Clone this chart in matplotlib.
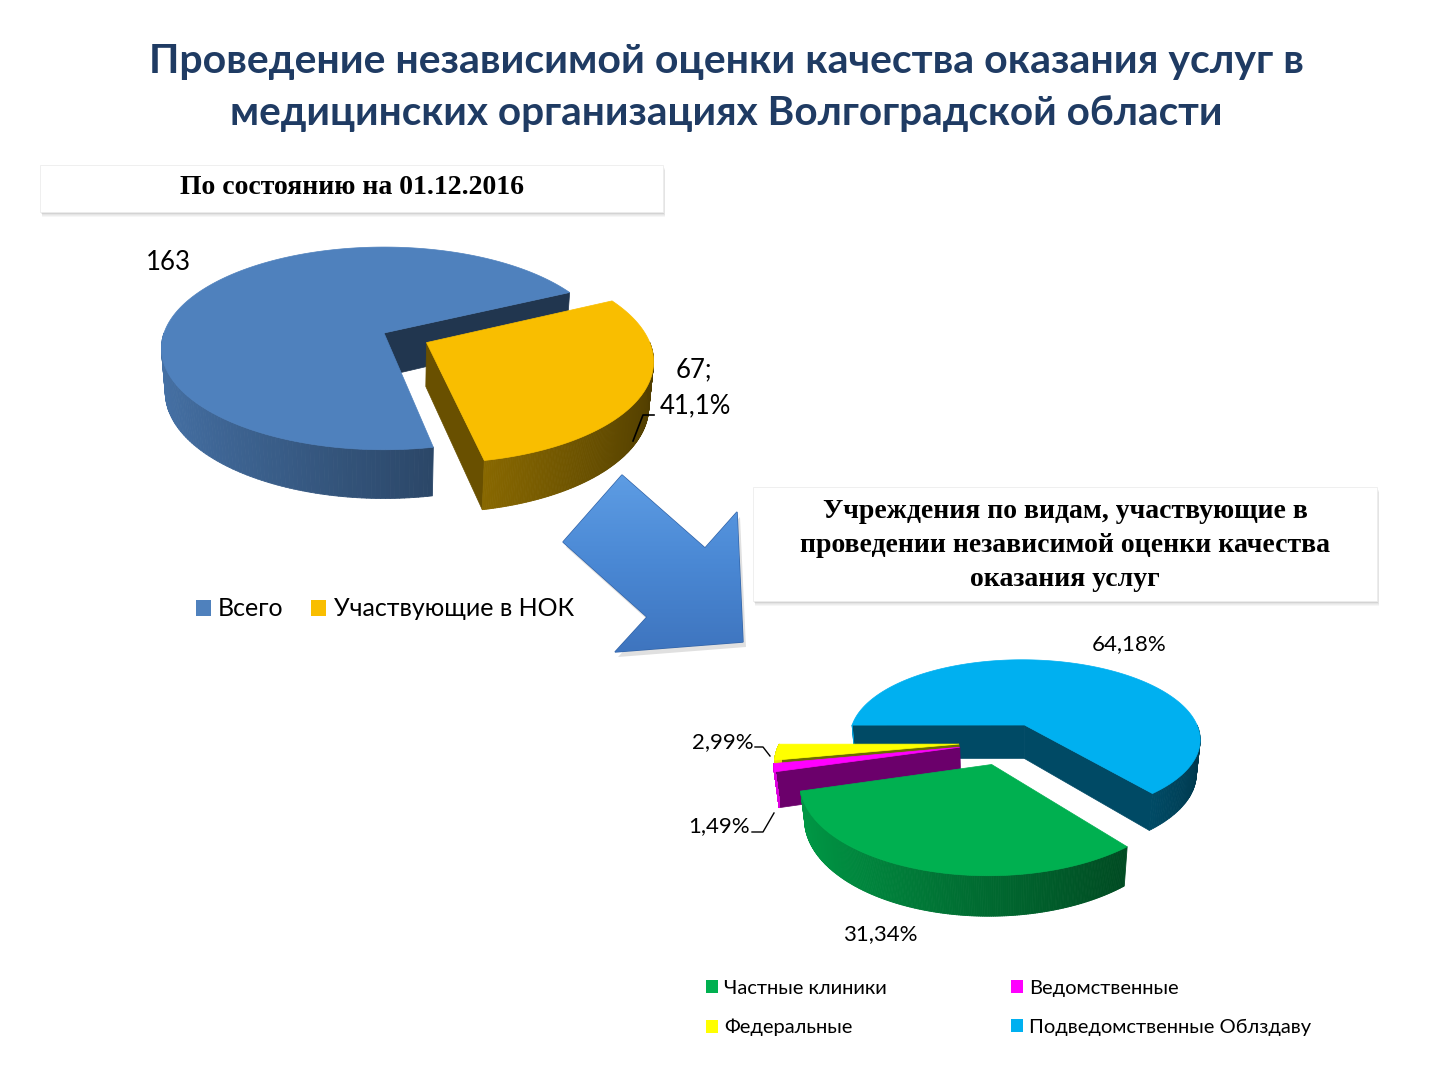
import numpy as np
import matplotlib
matplotlib.use('Agg')
import matplotlib.pyplot as plt
from matplotlib.patches import Polygon, Rectangle, Patch
from matplotlib.collections import PolyCollection
from matplotlib.colors import to_rgb, LinearSegmentedColormap

###    data    ###
title_lines = ['Проведение независимой оценки качества оказания услуг в',
               'медицинских организациях Волгоградской области']
box1_text = 'По состоянию на 01.12.2016'
box2_lines = ['Учреждения по видам, участвующие в',
              'проведении независимой оценки качества',
              'оказания услуг']

pie1_labels = ['Всего', 'Участвующие в НОК']
pie1_values = [163, 67]
pie1_colors = ['#4F81BD', '#F9BE00']

pie2_labels = ['Частные клиники', 'Ведомственные', 'Федеральные', 'Подведомственные Облздаву']
pie2_counts = [21, 1, 2, 43]
pie2_colors = ['#00B050', '#FF00FF', '#FFFF00', '#00B0F0']

FONT = 'Lato'


def shade(c, f):
    return tuple(np.clip(np.array(to_rgb(c)) * f, 0, 1))


def project(X, Y, H, p):
    se, ce = np.sin(p['el']), np.cos(p['el'])
    yc = Y * se + H * ce
    zc = p['D'] + Y * ce - H * se
    s = p['D'] / zc
    return p['cx'] + p['R'] * X * s, p['cy'] - p['R'] * yc * s


def pie3d(ax, values, colors, start, explode, p):
    fr = np.asarray(values, float) / np.sum(values)
    edges = start - np.concatenate([[0], np.cumsum(fr)]) * 360.0   # clockwise
    slices = []
    for i in range(len(values)):
        a, b = edges[i + 1], edges[i]
        sh = np.floor(a / 360.0) * 360.0
        a, b = a - sh, b - sh
        m = np.radians((a + b) / 2)
        slices.append((np.sin(m), i, a, b, m))
    slices.sort(key=lambda s: -s[0])
    h = p['h']
    for _, i, a, b, m in slices:
        ox, oy = explode[i] * np.cos(m), explode[i] * np.sin(m)
        brk = [k * 180.0 for k in range(5) if a < k * 180.0 < b]
        t = np.radians(np.unique(np.concatenate([np.linspace(a, b, 240), brk])))
        col = colors[i]
        # radial faces
        for ang, vis in ((np.radians(a), np.cos(np.radians(a)) > 0),
                         (np.radians(b), np.cos(np.radians(b)) < 0)):
            if not vis:
                continue
            X = np.array([ox, ox + np.cos(ang), ox + np.cos(ang), ox])
            Y = np.array([oy, oy + np.sin(ang), oy + np.sin(ang), oy])
            H = np.array([0, 0, -h, -h])
            u, v = project(X, Y, H, p)
            fc = shade(col, 0.42)
            ax.add_patch(Polygon(np.column_stack([u, v]), closed=True, fc=fc, ec=fc, lw=0.5))
        # outer wall
        X = ox + np.cos(t)
        Y = oy + np.sin(t)
        ut, vt = project(X, Y, np.zeros_like(t), p)
        ub, vb = project(X, Y, -h * np.ones_like(t), p)
        quads, fcs = [], []
        for k in range(len(t) - 1):
            tm = (t[k] + t[k + 1]) / 2
            if np.sin(tm) > 0:
                continue
            quads.append([(ut[k], vt[k]), (ut[k + 1], vt[k + 1]),
                          (ub[k + 1], vb[k + 1]), (ub[k], vb[k])])
            fcs.append(shade(col, np.clip(0.6 - 0.28 * np.cos(tm), 0.25, 1)))
        if quads:
            ax.add_collection(PolyCollection(quads, facecolors=fcs, edgecolors=fcs, linewidths=0.6))
        # top face
        tu, tv = project(np.array([ox]), np.array([oy]), np.array([0.0]), p)
        poly = np.column_stack([np.concatenate([tu, ut]), np.concatenate([tv, vt])])
        ax.add_patch(Polygon(poly, closed=True, fc=col, ec=col, lw=0.5))


def shadow_box(ax, x0, y0, w, hgt):
    for k in range(1, 7):
        ax.add_patch(Rectangle((x0 + 0.4 * k, y0 + 0.8 * k), w, hgt, fc='black', ec='none', alpha=0.035))
    ax.add_patch(Rectangle((x0, y0), w, hgt, fc='white', ec='#EDEDED', lw=0.6))


fig = plt.figure(figsize=(14.4, 10.8), dpi=100)
ax = fig.add_axes([0, 0, 1, 1])
ax.set_xlim(0, 1440)
ax.set_ylim(1080, 0)
ax.axis('off')

###    title    ###
ax.text(726, 62, title_lines[0], ha='center', va='center', fontsize=29.5, fontweight='bold',
        color='#1F3B63', family=FONT)
ax.text(726, 114, title_lines[1], ha='center', va='center', fontsize=29.2, fontweight='bold',
        color='#1F3B63', family=FONT)

###    box 1    ###
shadow_box(ax, 40, 165, 623, 47)
ax.text(352, 188, box1_text, ha='center', va='center', fontsize=20, fontweight='bold',
        family='Liberation Serif', color='black')

###    pie 1    ###
p1 = dict(cx=384, cy=333, R=220, el=np.arcsin(0.45), D=5.88, h=0.225)
pie3d(ax, pie1_values, pie1_colors, 281, [0, 0.213], p1)
ax.text(168, 262, str(pie1_values[0]), ha='center', va='center', fontsize=18.5, family=FONT)
pct1 = ('%.1f' % (pie1_values[1] / pie1_values[0] * 100)).replace('.', ',')
ax.text(676, 370, '%d;' % pie1_values[1], ha='left', va='center', fontsize=18.5, family=FONT)
ax.text(660, 406, pct1 + '%', ha='left', va='center', fontsize=18.5, family=FONT)
ax.plot([633, 643, 654], [441, 415, 415], color='black', lw=1.2)

leg1 = ax.legend(handles=[Patch(fc=c, ec='none') for c in pie1_colors], labels=pie1_labels,
                 ncol=2, loc='center left', bbox_to_anchor=(173 / 1440, 1 - 609 / 1080),
                 frameon=False, prop={'family': FONT, 'size': 18}, handlelength=0.6,
                 handleheight=0.6, handletextpad=0.3, columnspacing=1.1)
ax.add_artist(leg1)

###    arrow    ###
arrow_xy = np.array([(622, 475), (705, 548), (737, 512), (743, 642), (615, 652), (647, 617), (563, 542)])
ax.add_patch(Polygon(arrow_xy + [3, 5], closed=True, fc='black', ec='none', alpha=0.12))
arrow = Polygon(arrow_xy, closed=True, fc='#4A86D0', ec='#3465A8', lw=1.0)
ax.add_patch(arrow)
grad = np.linspace(0, 1, 200).reshape(-1, 1)
img = ax.imshow(grad, extent=(560, 748, 655, 472),
                cmap=LinearSegmentedColormap.from_list('arr', ['#5E9DE4', '#4A88D4', '#3E74BE']),
                aspect='auto', zorder=2)
img.set_clip_path(arrow)

###    box 2    ###
shadow_box(ax, 753, 487, 624, 114)
for k, line in enumerate(box2_lines):
    ax.text(1065, 511 + 34 * k, line, ha='center', va='center', fontsize=20, fontweight='bold',
            family='Liberation Serif', color='black')

###    pie 2    ###
p2 = dict(cx=1007, cy=742, R=179, el=np.arcsin(0.46), D=5.0, h=0.22)
pie3d(ax, pie2_counts, pie2_colors, -51, [0.273, 0.268, 0.268, 0.237], p2)
tot = sum(pie2_counts)
pct2 = [('%.2f' % (v / tot * 100)).replace('.', ',') + '%' for v in pie2_counts]
ax.text(1129, 644, pct2[3], ha='center', va='center', fontsize=16, family=FONT)
ax.text(880, 934, pct2[0], ha='center', va='center', fontsize=16, family=FONT)
ax.text(754, 742, pct2[2], ha='right', va='center', fontsize=16, family=FONT)
ax.text(750, 826, pct2[1], ha='right', va='center', fontsize=16, family=FONT)
ax.plot([755, 763, 770], [747, 747, 756], color='black', lw=1.0)
ax.plot([752, 763, 774], [832, 832, 813], color='black', lw=1.0)

order = [0, 2, 1, 3]
ax.legend(handles=[Patch(fc=pie2_colors[i], ec='none') for i in order],
          labels=[pie2_labels[i] for i in order], ncol=2, loc='center left',
          bbox_to_anchor=(688 / 1440, 1 - 1008 / 1080), frameon=False,
          prop={'family': FONT, 'size': 14.5}, handlelength=0.6, handleheight=0.6,
          handletextpad=0.3, columnspacing=6.15, labelspacing=1.1)

fig.savefig('out.png', dpi=100)
